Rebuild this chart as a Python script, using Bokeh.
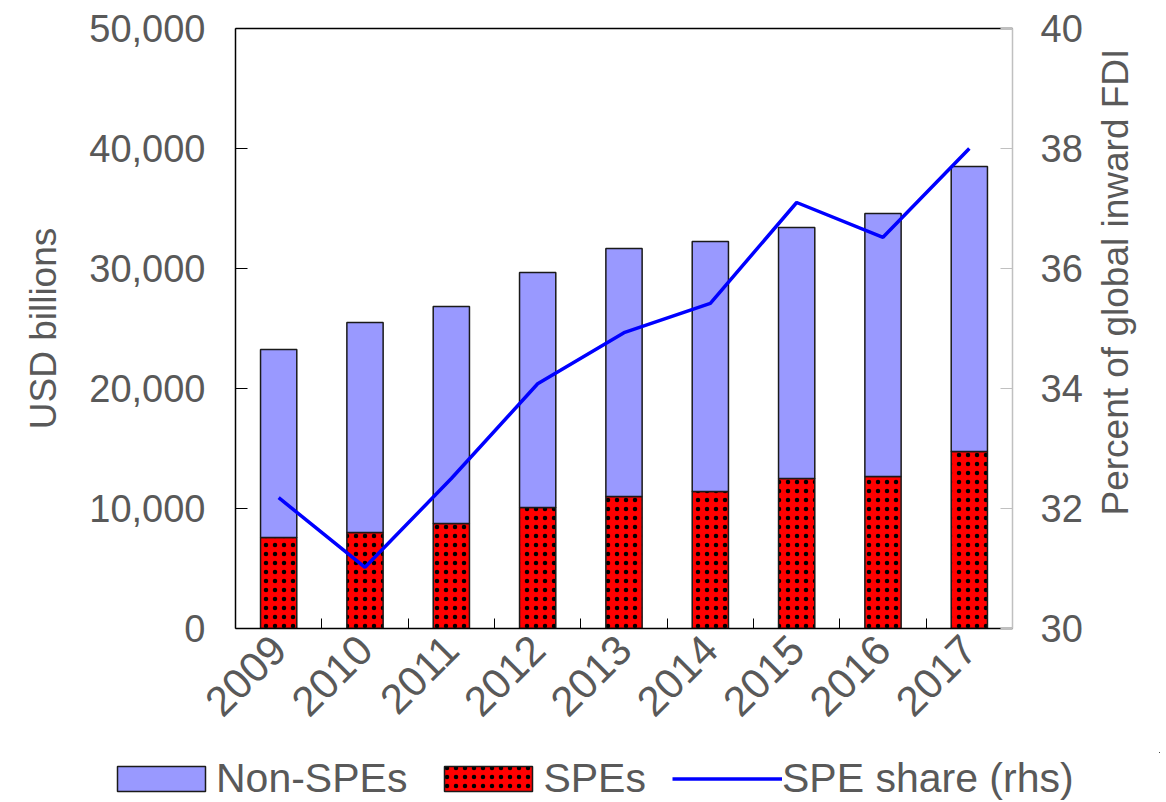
import math
from bokeh.plotting import figure
from bokeh.layouts import column, row
from bokeh.models import (ColumnDataSource, Range1d, LinearAxis, FixedTicker,
                          NumeralTickFormatter, Legend, LegendItem, Title)
from bokeh.embed import file_html
from bokeh.resources import INLINE

years = ["2009", "2010", "2011", "2012", "2013", "2014", "2015", "2016", "2017"]
spes = [7580, 8000, 8750, 10080, 11000, 11420, 12500, 12670, 14750]
non_spes = [15670, 17500, 18080, 19590, 20670, 20830, 20920, 21910, 23750]
spe_share = [32.18, 31.02, 32.5, 34.08, 34.93, 35.42, 37.1, 36.52, 38.0]

FONT = "Liberation Sans"
GREY = "#595959"
NON_COLOR = "#9999FF"
SPE_COLOR = "#FF0000"
LINE_COLOR = "#0000FF"

x_pos = [i + 0.5 for i in range(len(years))]
src = ColumnDataSource(dict(
    x=x_pos,
    spe=spes,
    total=[a + b for a, b in zip(spes, non_spes)],
    share=spe_share,
))

W_MAIN = 1092
W_RLAB = 68
H_MAIN = 752
TOP_B = 28
BOT_B = H_MAIN - 628
p = figure(width=W_MAIN, height=H_MAIN, output_backend="svg", toolbar_location=None,
           x_range=Range1d(0, len(years)), y_range=Range1d(0, 50000),
           min_border_left=235, min_border_right=W_MAIN - 1012, min_border_top=TOP_B,
           min_border_bottom=BOT_B)
p.extra_y_ranges = {"rhs": Range1d(30, 40)}
p.xgrid.visible = False
p.ygrid.visible = False
p.outline_line_color = None

bar_spe = dict(fill_color=SPE_COLOR, line_color="#1a1a1a", line_width=1.5,
               hatch_pattern="dot", hatch_color="black", hatch_scale=9, hatch_weight=0.75)
bar_non = dict(fill_color=NON_COLOR, line_color="#1a1a1a", line_width=1.5)
line_sty = dict(line_color=LINE_COLOR, line_width=3.5)

p.vbar(x="x", top="spe", bottom=0, width=0.42, source=src, **bar_spe)
p.vbar(x="x", top="total", bottom="spe", width=0.42, source=src, **bar_non)
p.line(x="x", y="share", source=src, y_range_name="rhs", **line_sty)

# bottom x axis
xa = p.xaxis[0]
xa.ticker = FixedTicker(ticks=x_pos, minor_ticks=list(range(1, len(years))))
xa.major_label_overrides = {x: y for x, y in zip(x_pos, years)}
xa.major_tick_in = 0
xa.major_tick_out = 0
xa.minor_tick_in = 10
xa.minor_tick_out = 0
xa.minor_tick_line_color = "black"
xa.axis_line_color = "black"
xa.axis_line_width = 1.5
xa.major_label_orientation = math.pi / 4
xa.major_label_text_font = FONT
xa.major_label_text_font_size = "42px"
xa.major_label_text_color = GREY
xa.major_label_standoff = 14

# left y axis
ya = p.yaxis[0]
ya.ticker = FixedTicker(ticks=[0, 10000, 20000, 30000, 40000, 50000])
ya.formatter = NumeralTickFormatter(format="0,0")
ya.major_tick_in = 12
ya.major_tick_out = 0
ya.minor_tick_in = 0
ya.minor_tick_out = 0
ya.axis_line_color = "black"
ya.axis_line_width = 1.5
ya.major_tick_line_color = "black"
ya.major_label_text_font = FONT
ya.major_label_text_font_size = "38px"
ya.major_label_text_color = GREY
ya.major_label_standoff = 30
ya.axis_label = "USD billions"
ya.axis_label_text_font = FONT
ya.axis_label_text_font_size = "37px"
ya.axis_label_text_font_style = "normal"
ya.axis_label_text_color = GREY
ya.axis_label_standoff = 22

# right y axis (ticks + labels)
ra = LinearAxis(y_range_name="rhs", ticker=FixedTicker(ticks=[30, 32, 34, 36, 38, 40]))
ra.major_tick_in = 12
ra.major_tick_out = 0
ra.minor_tick_in = 0
ra.minor_tick_out = 0
ra.axis_line_color = "#c0c0c0"
ra.axis_line_width = 1.5
ra.major_tick_line_color = "#c0c0c0"
ra.major_label_text_font = FONT
ra.major_label_text_font_size = "38px"
ra.major_label_text_color = GREY
ra.major_label_standoff = 28
p.add_layout(ra, "right")

# top border line
ta = LinearAxis(ticker=FixedTicker(ticks=[]))
ta.major_tick_in = 0
ta.major_tick_out = 0
ta.minor_tick_in = 0
ta.minor_tick_out = 0
ta.axis_line_color = "black"
ta.axis_line_width = 1.5
p.add_layout(ta, "above")

# right-hand axis title (reads bottom to top), in its own narrow strip
p3 = figure(width=W_RLAB, height=H_MAIN, output_backend="svg", toolbar_location=None,
            x_range=Range1d(0, 1), y_range=Range1d(0, 1),
            min_border_left=0, min_border_right=0, min_border_top=TOP_B,
            min_border_bottom=BOT_B)
p3.axis.visible = False
p3.xgrid.visible = False
p3.ygrid.visible = False
p3.outline_line_color = None
p3.add_layout(Title(text="Percent of global inward FDI", align="left",
                    text_font=FONT, text_font_size="37px", text_font_style="normal",
                    text_color=GREY, standoff=0, offset=113), "left")

# legend strip below the chart
p2 = figure(width=W_MAIN + W_RLAB, height=50, output_backend="svg", toolbar_location=None,
            x_range=Range1d(-2, -1), y_range=Range1d(-2, -1),
            min_border_left=0, min_border_right=0, min_border_top=0, min_border_bottom=0)
p2.axis.visible = False
p2.xgrid.visible = False
p2.ygrid.visible = False
p2.outline_line_color = None
# legend proxies: drawn entirely outside this strip's visible ranges
l_non = p2.vbar(x="x", top="total", bottom="spe", width=0.1, source=src, **bar_non)
l_spe = p2.vbar(x="x", top="spe", bottom=0, width=0.1, source=src, **bar_spe)
l_line = p2.line(x="x", y="total", source=src, **line_sty)

legend = Legend(items=[
    LegendItem(label="Non-SPEs", renderers=[l_non]),
    LegendItem(label="SPEs", renderers=[l_spe]),
    LegendItem(label="SPE share (rhs)", renderers=[l_line]),
], orientation="horizontal", location=(106, 0))
legend.glyph_width = 110
legend.glyph_height = 31
legend.label_text_font = FONT
legend.label_text_font_size = "41px"
legend.label_text_color = GREY
legend.label_standoff = 0
legend.spacing = 26
legend.padding = 2
legend.margin = 0
legend.border_line_color = None
legend.background_fill_alpha = 0
p2.add_layout(legend, "center")

layout = column(row(p, p3, spacing=0), p2, spacing=0)
open("out.html", "w").write(file_html(layout, INLINE))
